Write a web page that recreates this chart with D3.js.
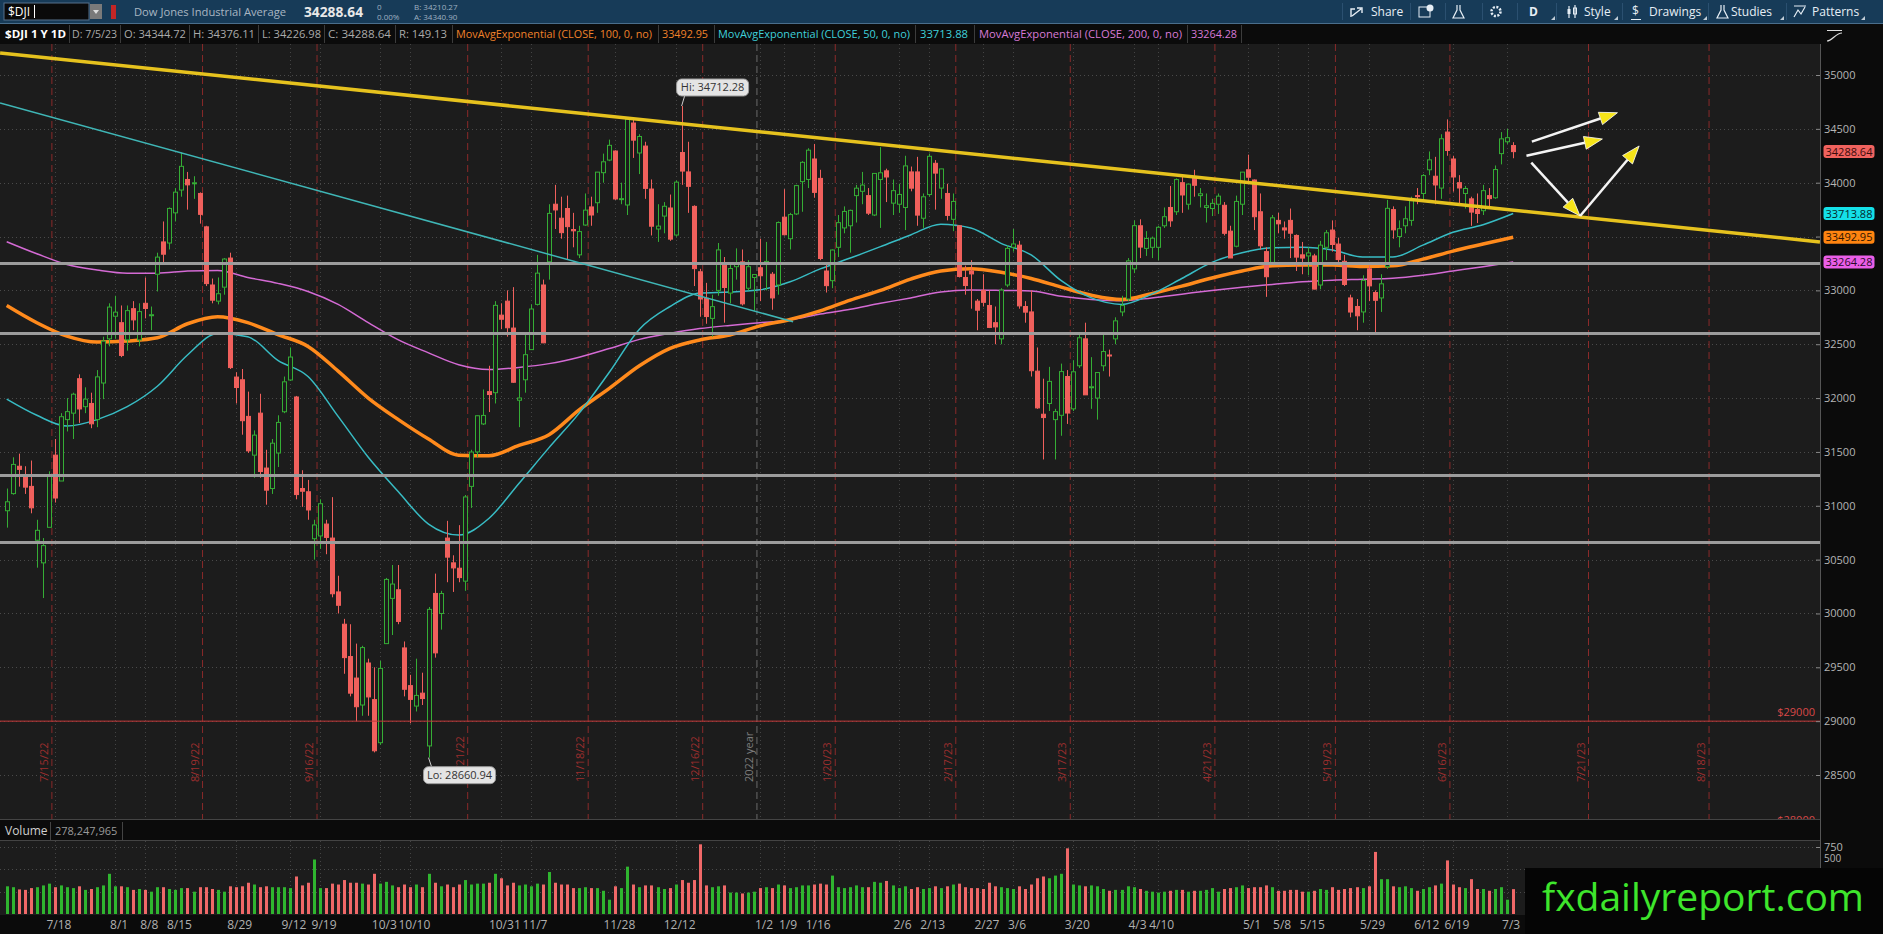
<!DOCTYPE html>
<head>
  <meta charset="utf-8">
  <title>$DJI 1 Y 1D</title>
  <script src="https://d3js.org/d3.v7.min.js"></script>
  <style>
    body { margin:0; background:#0b0b0b; overflow:hidden; }
    svg { display:block; }
    text { font-family: "Open Sans", "Noto Sans", sans-serif; }
  </style>
</head>

<body>
  <svg width="1883" height="934"></svg>
  <script>
    // ---------- daily bars, 7/6/22 .. 7/5/23 ----------
    var dates = [
      '7/6/22','7/7/22','7/8/22','7/11/22','7/12/22','7/13/22','7/14/22','7/15/22','7/18/22','7/19/22','7/20/22','7/21/22','7/22/22','7/25/22','7/26/22','7/27/22','7/28/22','7/29/22',
      '8/1/22','8/2/22','8/3/22','8/4/22','8/5/22','8/8/22','8/9/22','8/10/22','8/11/22','8/12/22','8/15/22','8/16/22','8/17/22','8/18/22','8/19/22','8/22/22','8/23/22','8/24/22','8/25/22','8/26/22','8/29/22','8/30/22','8/31/22',
      '9/1/22','9/2/22','9/6/22','9/7/22','9/8/22','9/9/22','9/12/22','9/13/22','9/14/22','9/15/22','9/16/22','9/19/22','9/20/22','9/21/22','9/22/22','9/23/22','9/26/22','9/27/22','9/28/22','9/29/22','9/30/22',
      '10/3/22','10/4/22','10/5/22','10/6/22','10/7/22','10/10/22','10/11/22','10/12/22','10/13/22','10/14/22','10/17/22','10/18/22','10/19/22','10/20/22','10/21/22','10/24/22','10/25/22','10/26/22','10/27/22','10/28/22','10/31/22',
      '11/1/22','11/2/22','11/3/22','11/4/22','11/7/22','11/8/22','11/9/22','11/10/22','11/11/22','11/14/22','11/15/22','11/16/22','11/17/22','11/18/22','11/21/22','11/22/22','11/23/22','11/25/22','11/28/22','11/29/22','11/30/22',
      '12/1/22','12/2/22','12/5/22','12/6/22','12/7/22','12/8/22','12/9/22','12/12/22','12/13/22','12/14/22','12/15/22','12/16/22','12/19/22','12/20/22','12/21/22','12/22/22','12/23/22','12/27/22','12/28/22','12/29/22','12/30/22',
      '1/3/23','1/4/23','1/5/23','1/6/23','1/9/23','1/10/23','1/11/23','1/12/23','1/13/23','1/17/23','1/18/23','1/19/23','1/20/23','1/23/23','1/24/23','1/25/23','1/26/23','1/27/23','1/30/23','1/31/23',
      '2/1/23','2/2/23','2/3/23','2/6/23','2/7/23','2/8/23','2/9/23','2/10/23','2/13/23','2/14/23','2/15/23','2/16/23','2/17/23','2/21/23','2/22/23','2/23/23','2/24/23','2/27/23','2/28/23',
      '3/1/23','3/2/23','3/3/23','3/6/23','3/7/23','3/8/23','3/9/23','3/10/23','3/13/23','3/14/23','3/15/23','3/16/23','3/17/23','3/20/23','3/21/23','3/22/23','3/23/23','3/24/23','3/27/23','3/28/23','3/29/23','3/30/23','3/31/23',
      '4/3/23','4/4/23','4/5/23','4/6/23','4/10/23','4/11/23','4/12/23','4/13/23','4/14/23','4/17/23','4/18/23','4/19/23','4/20/23','4/21/23','4/24/23','4/25/23','4/26/23','4/27/23','4/28/23',
      '5/1/23','5/2/23','5/3/23','5/4/23','5/5/23','5/8/23','5/9/23','5/10/23','5/11/23','5/12/23','5/15/23','5/16/23','5/17/23','5/18/23','5/19/23','5/22/23','5/23/23','5/24/23','5/25/23','5/26/23','5/30/23','5/31/23',
      '6/1/23','6/2/23','6/5/23','6/6/23','6/7/23','6/8/23','6/9/23','6/12/23','6/13/23','6/14/23','6/15/23','6/16/23','6/20/23','6/21/23','6/22/23','6/23/23','6/26/23','6/27/23','6/28/23','6/29/23','6/30/23',
      '7/3/23','7/5/23'
    ];
    var opens = [
      30954,31113,31367,31286,31180,30680,30470,30800,31470,31230,31800,31860,32180,31920,31950,31800,32140,32550,
      32760,32700,32540,32830,32540,32880,32770,33150,33450,33440,33720,33932,34030,33990,33900,33590,33050,32900,33030,33300,32195,32170,31830,
      31470,31860,31350,31160,31490,31873,32168,32010,31160,31130,30694,30720,30830,30700,30200,29900,29600,29400,29150,29540,29200,
      28800,29720,30140,30220,29680,29330,29140,29260,28770,30186,30000,30700,30470,30420,30300,31180,31500,31760,32060,32050,32770,
      32900,32650,31980,32170,32450,32870,33050,33266,33800,33670,33760,33565,33330,33607,33775,33814,34093,34210,34294,33850,33793,
      34554,34276,34340,33941,33570,33690,33765,33514,34280,34100,33780,33173,32926,32740,33000,33235,32975,33220,33265,33020,33120,
      33210,33250,33150,33050,33680,33480,33710,34010,34030,34220,34040,33180,33090,33400,33580,33600,33880,33920,33880,33700,
      34030,34110,33810,33800,33770,34100,34100,33670,33890,34180,33950,33900,33660,33600,33120,33180,32900,33000,32860,
      32700,32550,33050,33400,33420,32850,32800,32250,31850,31950,31800,31840,32200,31900,32300,32550,32100,32000,32300,32400,32550,32800,32920,
      33200,33600,33390,33400,33400,33600,33770,33730,34000,33800,34050,33880,33770,33760,33800,33790,33550,33410,33800,
      34120,34025,33730,33360,33260,33650,33580,33650,33510,33330,33320,33320,33050,33400,33560,33430,33270,32930,32850,32800,33200,32980,
      32930,33220,33750,33500,33600,33650,33880,33900,34120,34060,33950,34470,34220,34000,33900,33850,33750,33740,33880,33860,34270,
      34380,34344.72
    ];
    var highs = [
      31160,31450,31484,31367,31420,30870,30700,31320,31620,31860,32000,32050,32220,32100,32050,32260,32570,32880,
      32950,32860,32860,32900,32880,33120,32850,33350,33640,33770,33950,34281,34100,34060,33910,33600,33110,33120,33300,33350,32240,32270,32060,
      31700,32040,31520,31620,31840,32200,32470,32020,31330,31240,30870,31060,30870,31080,30350,29950,29900,29720,29700,29580,29500,
      29560,30330,30450,30450,29740,29430,29580,29450,30060,30370,30210,30860,30540,30820,31100,31520,31840,32080,32300,32900,32880,
      33000,33030,32270,32600,32870,33330,33100,33800,33980,33870,33880,33720,33600,33900,33870,34100,34270,34400,34300,34000,34600,
      34600,34450,34380,34030,33800,33820,33890,34020,34712.28,34380,33790,33200,33070,32960,33440,33310,33240,33390,33380,33280,33150,
      33480,33450,33170,33640,33940,33720,33980,34200,34320,34360,34120,33250,33380,33700,33780,33750,33980,34100,33950,34090,
      34330,34130,34030,33990,34250,34150,34240,33900,34270,34210,34130,33990,33900,33600,33230,33280,32920,33150,33000,
      32850,33020,33420,33570,33460,32900,33000,32470,32180,32290,31900,32320,32260,32350,32600,32700,32380,32240,32600,32450,32750,32950,33300,
      33650,33660,33550,33500,33600,33770,33970,34040,34080,33990,34120,33950,33900,33850,33900,33820,33600,33880,34100,
      34260,34030,33900,33400,33700,33720,33640,33760,33520,33450,33400,33340,33460,33560,33650,33490,33330,32960,32920,33140,33230,33000,
      33150,33840,33780,33650,33780,33870,33950,34080,34290,34240,34450,34588,34250,34070,33970,33870,33900,33980,33950,34160,34470,
      34500,34376.11
    ];
    var lows = [
      30797,31103,31178,31110,30930,30425,30143,30800,31030,31230,31690,31620,31770,31860,31720,31730,31990,32480,
      32550,32380,32440,32630,32480,32740,32630,32990,33240,33380,33640,33870,33750,33850,33620,33040,32880,32870,32960,32270,31950,31660,31490,
      31260,31260,31010,31110,31360,31860,32160,31060,30990,30870,30500,30600,30550,30150,30000,29440,29230,29000,29050,29050,28710,
      28780,29720,29800,29900,29230,28980,29090,29150,28660.94,29590,29850,30290,30200,30290,30210,30980,31450,31750,31870,31950,32640,
      32570,32140,31730,32050,32450,32860,32510,33100,33570,33480,33290,33400,33300,33600,33600,33720,34000,34200,33840,33800,33700,
      34230,34080,33850,33510,33450,33530,33460,33500,33980,33720,33040,32755,32690,32570,32950,32700,32880,33100,32860,33000,32810,
      32900,33000,32820,32960,33510,33380,33700,33730,33950,33860,33280,32980,33020,33310,33530,33350,33630,33800,33700,33690,
      33580,33820,33700,33720,33560,33920,33600,33580,33870,33750,33850,33650,33550,33120,32960,32830,32630,32850,32650,
      32500,32500,33030,33360,32830,32700,32200,31900,31430,31880,31430,31650,31760,31880,32280,32030,31900,31800,32250,32200,32500,32760,32900,
      33160,33300,33320,33300,33280,33580,33590,33700,33720,33750,33870,33770,33630,33690,33710,33510,33300,33400,33700,
      34000,33560,33380,32940,33250,33530,33480,33300,33180,33150,33140,33010,33010,33280,33360,33230,33040,32750,32630,32700,32900,32590,
      32800,33200,33480,33400,33530,33600,33800,33830,34070,33800,33850,34250,33917,33800,33760,33600,33625,33700,33770,33850,34170,
      34360,34226.98
    ];
    var closes = [
      31037,31384,31338,31173,30981,30772,30630,31288,31072,31827,31874,32036,31899,31990,31761,32197,32529,32845,
      32798,32396,32812,32726,32803,32832,32774,33309,33336,33761,33912,34152,33980,33999,33706,33063,32909,32969,33291,32283,32098,31790,31510,
      31656,31318,31145,31581,31774,32151,32381,31104,31135,30961,30822,31019,30706,30183,30076,29590,29260,29134,29683,29225,28725,
      29490,30316,30273,29926,29296,29202,29239,29210,30038,29634,30185,30523,30423,30333,31082,31499,31836,31839,32033,32861,32732,
      32653,32147,32001,32403,32827,33160,32513,33715,33747,33536,33592,33553,33546,33745,33700,34098,34194,34347,33849,33852,34589,
      34395,34429,33947,33596,33597,33781,33476,34005,34108,33966,33202,32920,32757,32849,33376,33027,33203,33241,32875,33220,33147,
      33136,33269,32930,33630,33517,33704,33973,34189,34302,33910,33296,33044,33375,33629,33733,33743,33949,33978,33717,34086,
      34092,34053,33926,33891,34156,33949,33699,33869,34245,34089,34128,33696,33826,33129,33045,33153,32816,32889,32656,
      32661,33003,33390,33431,32856,32798,32254,31909,31819,32155,31874,32246,31861,32244,32560,32030,32105,32237,32432,32394,32717,32859,33274,
      33601,33402,33482,33485,33586,33684,33646,34029,33886,33987,33976,33897,33786,33808,33875,33530,33301,33826,34098,
      34051,33684,33414,33127,33674,33618,33561,33531,33309,33300,33348,33012,33420,33535,33426,33286,33055,32799,32764,33093,33042,32908,
      33061,33762,33562,33573,33665,33833,33876,34066,34212,33979,34408,34299,34053,33951,33946,33727,33714,33926,33852,34122,34407,
      34418,34288.64
    ];
    // volume, millions of shares
    var volumes = [
      310,300,275,270,290,300,320,340,300,320,300,290,310,270,280,300,320,450,
      310,310,300,270,280,270,250,300,300,280,270,290,290,250,300,300,280,270,250,310,300,310,350,
      330,300,310,300,300,300,290,420,320,350,610,290,290,340,330,380,350,350,340,330,450,
      340,360,320,300,330,300,330,300,450,350,310,330,300,330,380,330,340,340,350,450,400,
      320,350,320,330,310,340,330,470,350,330,330,290,290,300,290,290,260,160,310,290,530,
      330,300,320,320,300,280,290,330,380,350,380,780,320,300,310,320,240,240,230,240,250,
      290,300,290,330,320,290,300,320,320,330,340,330,430,300,290,300,320,300,300,360,
      350,370,320,290,310,280,300,280,290,310,290,310,330,340,300,290,290,280,350,
      310,300,290,280,310,280,330,400,420,400,430,450,735,330,320,310,320,310,280,260,270,270,310,
      300,280,260,250,240,250,260,270,270,250,260,260,270,290,250,280,290,300,320,
      290,300,300,320,300,260,260,270,270,250,250,260,280,270,300,270,280,290,300,290,310,695,
      390,390,310,300,310,290,260,280,300,320,340,600,330,300,290,390,280,280,260,280,300,
      160,278.25
    ];
    var lastVolume = 278247965;

    // ---------- exponential moving averages, read every 5th session ----------
    var emaStep = 5;
    var ema50 = [31990,31840,31740,31800,31920,32110,32400,32600,32570,32350,
                 32200,31830,31450,31130,30830,30728,30882,31207,31540,31860,
                 32240,32640,32848,32975,32985,33005,33080,33200,33300,33406,
                 33515,33615,33580,33437,33330,33090,32930,32870,32965,33110,
                 33260,33350,33395,33400,33375,33310,33310,33420,33540,33610,33714];
    var ema100 = [32860,32700,32575,32520,32530,32560,32690,32755,32700,32590,
                  32480,32250,32000,31800,31620,31470,31465,31560,31660,31890,
                  32090,32300,32460,32540,32585,32670,32730,32810,32910,33000,
                  33105,33180,33200,33168,33110,33030,32955,32915,32970,33040,
                  33115,33180,33228,33235,33235,33222,33228,33290,33365,33430,33493];
    var ema200 = [33452,33340,33240,33190,33160,33160,33180,33185,33120,33065,
                  32990,32870,32700,32540,32420,32310,32266,32285,32320,32380,
                  32460,32545,32600,32645,32675,32700,32725,32780,32825,32880,
                  32930,32985,33003,33000,32995,32945,32915,32904,32930,32965,
                  33000,33030,33055,33080,33095,33103,33112,33140,33180,33220,33264];
    var lastEma = { ema50: 33713.88, ema100: 33492.95, ema200: 33264.28 };

    // ---------- axes, markers, drawings ----------
    var priceTicks = [28500,29000,29500,30000,30500,31000,31500,32000,32500,33000,33500,34000,34500,35000];
    var volumeTicks = [250, 500, 750];
    var dateTicks = [
      ['7/18/22','7/18'],['8/1/22','8/1'],['8/8/22','8/8'],['8/15/22','8/15'],['8/29/22','8/29'],['9/12/22','9/12'],
      ['9/19/22','9/19'],['10/3/22','10/3'],['10/10/22','10/10'],['10/31/22','10/31'],['11/7/22','11/7'],['11/28/22','11/28'],
      ['12/12/22','12/12'],['1/3/23','1/2'],['1/9/23','1/9'],['1/17/23','1/16'],['2/6/23','2/6'],['2/13/23','2/13'],
      ['2/27/23','2/27'],['3/6/23','3/6'],['3/20/23','3/20'],['4/3/23','4/3'],['4/10/23','4/10'],['5/1/23','5/1'],
      ['5/8/23','5/8'],['5/15/23','5/15'],['5/30/23','5/29'],['6/12/23','6/12'],['6/20/23','6/19'],['7/3/23','7/3']
    ];
    var expiries = ['7/15/22','8/19/22','9/16/22','10/21/22','11/18/22','12/16/22','1/20/23','2/17/23','3/17/23','4/21/23','5/19/23','6/16/23'];
    var futureExpiries = [['7/21/23', 12], ['8/18/23', 32]]; // sessions after the last bar
    var levelLines = [33250, 32600, 31280, 30660];
    var alertLevels = [29000, 28000];
    // trend lines as [session, price] anchors
    var yellowTrend = [[-1.1, 35205], [300.9, 33450]];
    var tealTrend = [[-1.1, 34740], [130.5, 32709]];
    var arrows = [
      [[253.1, 34381], [267.3, 34650]],
      [[252.2, 34251], [264.8, 34406]],
      [[253.0, 34186], [261.1, 33691]],
      [[261.1, 33691], [270.9, 34341]]
    ];
    var hiBar = '12/13/22', loBar = '10/13/22';

    // ---------- layout ----------
    var W = 1883, H = 934;
    var plot = { left: 0, right: 1820, top: 44, bottom: 819 };
    var volTop = 841, volBottom = 915;
    var bg = '#1c1c1c', upColor = '#35ad35', downColor = '#f0605c';

    var svg = d3.select('svg');
    var last = dates.length - 1;
    var x = d3.scaleLinear().domain([0, last]).range([6.7, 6.7 + last * 6.026]);
    var y = d3.scaleLinear().domain([28500, 35000]).range([775, 75]);
    var yVol = d3.scaleLinear().domain([0, 750]).range([914, 847]);
    var pos = function(d) { return dates.indexOf(d); };

    svg.append('rect').attr('width', W).attr('height', H).attr('fill', '#0b0b0b');
    svg.append('rect').attr('width', W).attr('height', 23).attr('fill', '#173b58');
    svg.append('rect').attr('x', plot.left).attr('y', plot.top)
      .attr('width', plot.right - plot.left).attr('height', plot.bottom - plot.top).attr('fill', bg);
    svg.append('rect').attr('x', plot.left).attr('y', volTop)
      .attr('width', plot.right - plot.left).attr('height', volBottom - volTop).attr('fill', bg);

    var defs = svg.append('defs');
    defs.append('clipPath').attr('id', 'clipPlot').append('rect')
      .attr('x', plot.left).attr('y', plot.top).attr('width', plot.right - plot.left).attr('height', plot.bottom - plot.top);
    defs.append('clipPath').attr('id', 'clipVol').append('rect')
      .attr('x', plot.left).attr('y', volTop).attr('width', plot.right - plot.left).attr('height', volBottom - volTop);

    var gPlot = svg.append('g').attr('clip-path', 'url(#clipPlot)');
    var gVol = svg.append('g').attr('clip-path', 'url(#clipVol)');

    // grid
    gPlot.selectAll('.hgrid').data(priceTicks).enter().append('line')
      .attr('x1', plot.left).attr('x2', plot.right)
      .attr('y1', d => Math.round(y(d)) + 0.5).attr('y2', d => Math.round(y(d)) + 0.5)
      .attr('stroke', '#4a4a4a').attr('stroke-dasharray', '1,3');
    [gPlot, gVol].forEach(function(g, k) {
      g.selectAll('.vgrid').data(dateTicks).enter().append('line')
        .attr('x1', d => Math.round(x(pos(d[0]))) + 0.5).attr('x2', d => Math.round(x(pos(d[0]))) + 0.5)
        .attr('y1', k ? volTop : plot.top).attr('y2', k ? volBottom : plot.bottom)
        .attr('stroke', '#444').attr('stroke-dasharray', '1,3');
    });
    gVol.selectAll('.vhgrid').data(volumeTicks).enter().append('line')
      .attr('x1', plot.left).attr('x2', plot.right)
      .attr('y1', d => Math.round(yVol(d)) + 0.5).attr('y2', d => Math.round(yVol(d)) + 0.5)
      .attr('stroke', '#4a4a4a').attr('stroke-dasharray', '1,3');

    // expiration markers
    var expiryMarks = expiries.map(d => ({ label: d, xs: x(pos(d)) + 3 }))
      .concat(futureExpiries.map(d => ({ label: d[0], xs: x(last + d[1]) + 3 })));
    gPlot.selectAll('.exp').data(expiryMarks).enter().append('line')
      .attr('x1', d => d.xs).attr('x2', d => d.xs).attr('y1', plot.top).attr('y2', plot.bottom)
      .attr('stroke', '#8a2a2a').attr('stroke-dasharray', '7,4');
    gPlot.selectAll('.expLabel').data(expiryMarks).enter().append('text')
      .attr('transform', d => 'translate(' + (d.xs - 4) + ',782) rotate(-90)')
      .attr('font-size', 11).attr('fill', '#9c2e2e').text(d => d.label);
    var yearX = (x(pos('12/30/22')) + x(pos('1/3/23'))) / 2;
    gPlot.append('line').attr('x1', yearX).attr('x2', yearX).attr('y1', plot.top).attr('y2', plot.bottom)
      .attr('stroke', '#6a6a6a').attr('stroke-dasharray', '7,4');
    gPlot.append('text').attr('transform', 'translate(' + (yearX - 4) + ',782) rotate(-90)')
      .attr('font-size', 11).attr('fill', '#7c7c7c').text('2022 year');

    // moving averages
    var emaLine = d3.line().x((d, k) => x(k * emaStep)).y(d => y(d)).curve(d3.curveMonotoneX);
    [[ema200, '#d46ad4', 1.5], [ema100, '#ff8a1c', 3.5], [ema50, '#38bcc4', 1.5]].forEach(function(s) {
      gPlot.append('path').datum(s[0]).attr('d', emaLine)
        .attr('fill', 'none').attr('stroke', s[1]).attr('stroke-width', s[2]);
    });

    // candles
    var bars = dates.map(function(d, i) {
      return { i: i, o: opens[i], h: highs[i], l: lows[i], c: closes[i], v: volumes[i], up: closes[i] >= opens[i] };
    });
    var candle = gPlot.selectAll('.candle').data(bars).enter().append('g');
    candle.append('line')
      .attr('x1', d => Math.round(x(d.i)) + 0.5).attr('x2', d => Math.round(x(d.i)) + 0.5)
      .attr('y1', d => y(d.h)).attr('y2', d => y(Math.max(d.o, d.c)))
      .attr('stroke', d => d.up ? upColor : downColor);
    candle.append('line')
      .attr('x1', d => Math.round(x(d.i)) + 0.5).attr('x2', d => Math.round(x(d.i)) + 0.5)
      .attr('y1', d => y(Math.min(d.o, d.c))).attr('y2', d => y(d.l))
      .attr('stroke', d => d.up ? upColor : downColor);
    candle.append('rect')
      .attr('x', d => Math.round(x(d.i)) - 1.5).attr('width', 4)
      .attr('y', d => y(Math.max(d.o, d.c)))
      .attr('height', d => Math.max(1, y(Math.min(d.o, d.c)) - y(Math.max(d.o, d.c))))
      .attr('fill', d => d.up ? bg : downColor)
      .attr('stroke', d => d.up ? upColor : downColor).attr('stroke-width', 1);

    // price level drawings
    gPlot.selectAll('.level').data(levelLines).enter().append('line')
      .attr('x1', plot.left).attr('x2', plot.right).attr('y1', d => y(d)).attr('y2', d => y(d))
      .attr('stroke', '#9c9c9c').attr('stroke-width', 3);
    gPlot.selectAll('.alert').data(alertLevels).enter().append('line')
      .attr('x1', plot.left).attr('x2', plot.right).attr('y1', d => y(d)).attr('y2', d => y(d))
      .attr('stroke', '#c43838').attr('stroke-width', 1);
    gPlot.selectAll('.alertLabel').data(alertLevels).enter().append('text')
      .attr('x', 1815).attr('y', d => y(d) - 5).attr('text-anchor', 'end')
      .attr('font-size', 11).attr('fill', '#d84848').text(d => '$' + d);

    var trendLine = d3.line().x(d => x(d[0])).y(d => y(d[1]));
    gPlot.append('path').datum(tealTrend).attr('d', trendLine)
      .attr('stroke', '#3fb6b6').attr('stroke-width', 1.5).attr('fill', 'none');
    gPlot.append('path').datum(yellowTrend).attr('d', trendLine)
      .attr('stroke', '#e6c21e').attr('stroke-width', 3.5).attr('fill', 'none');

    // arrows: white shaft, yellow head
    arrows.forEach(function(a) {
      var x0 = x(a[0][0]), y0 = y(a[0][1]), x1 = x(a[1][0]), y1 = y(a[1][1]);
      var ang = Math.atan2(y1 - y0, x1 - x0), len = 18, half = 6.5;
      var bx = x1 - len * Math.cos(ang), by = y1 - len * Math.sin(ang);
      gPlot.append('line').attr('x1', x0).attr('y1', y0).attr('x2', bx).attr('y2', by)
        .attr('stroke', '#f4f4f4').attr('stroke-width', 2.5);
      var pts = [[x1, y1],
        [bx + half * Math.sin(ang), by - half * Math.cos(ang)],
        [bx - half * Math.sin(ang), by + half * Math.cos(ang)]];
      gPlot.append('polygon').attr('points', pts.map(p => p.join(',')).join(' '))
        .attr('fill', '#f6e418').attr('stroke', '#ffffff').attr('stroke-width', 0.8);
    });

    // high / low bubbles
    function bubble(i, price, label, above) {
      var ax = x(i), ay = y(price);
      var bx = ax - 5, by = above ? ay - 27 : ay + 9, bw = 72, bh = 17;
      gPlot.append('line').attr('x1', ax).attr('y1', ay)
        .attr('x2', ax + 3).attr('y2', above ? by + bh : by).attr('stroke', '#cfcfcf');
      gPlot.append('rect').attr('x', bx).attr('y', by).attr('width', bw).attr('height', bh).attr('rx', 5)
        .attr('fill', '#e4e4e4').attr('stroke', '#9a9a9a');
      gPlot.append('text').attr('x', bx + bw / 2).attr('y', by + 12.5).attr('text-anchor', 'middle')
        .attr('font-size', 11).attr('fill', '#333').text(label);
    }
    bubble(pos(hiBar), highs[pos(hiBar)], 'Hi: ' + d3.format('.2f')(highs[pos(hiBar)]), true);
    bubble(pos(loBar), lows[pos(loBar)], 'Lo: ' + d3.format('.2f')(lows[pos(loBar)]), false);

    // volume bars
    gVol.selectAll('.vol').data(bars).enter().append('rect')
      .attr('x', d => Math.round(x(d.i)) - 1).attr('width', 3)
      .attr('y', d => yVol(d.v)).attr('height', d => yVol(0) - yVol(d.v))
      .attr('fill', d => d.up ? '#2fb52f' : '#f06868');

    // frames
    svg.append('line').attr('x1', 0).attr('x2', plot.right).attr('y1', plot.bottom + 0.5).attr('y2', plot.bottom + 0.5).attr('stroke', '#444');
    svg.append('line').attr('x1', 0).attr('x2', plot.right).attr('y1', volTop - 0.5).attr('y2', volTop - 0.5).attr('stroke', '#444');
    svg.append('line').attr('x1', plot.right + 0.5).attr('x2', plot.right + 0.5).attr('y1', plot.top).attr('y2', volBottom).attr('stroke', '#555');

    // price axis; labels under the value tags are hidden as on the platform
    var valueTags = [
      [closes[last], '#f0625e', '#3a0b0b'], [lastEma.ema50, '#14e0e8', '#06282a'],
      [lastEma.ema100, '#ff8410', '#2e1500'], [lastEma.ema200, '#ea5ee8', '#2a0a2a']
    ];
    var yAxis = svg.append('g').attr('transform', 'translate(' + plot.right + ',0)')
      .call(d3.axisRight(y).tickValues(priceTicks).tickSize(-4).tickPadding(4).tickFormat(d3.format('d')));
    yAxis.select('.domain').remove();
    yAxis.selectAll('line').attr('stroke', '#888');
    yAxis.selectAll('text').attr('font-size', 11).attr('fill', '#b4b4b4')
      .style('display', d => valueTags.some(t => Math.abs(y(t[0]) - y(d)) < 11) ? 'none' : null);

    valueTags.forEach(function(t) {
      svg.append('rect').attr('x', 1823.5).attr('y', y(t[0]) - 6.5).attr('width', 51).attr('height', 13).attr('rx', 3)
        .attr('fill', t[1]);
      svg.append('text').attr('x', 1849).attr('y', y(t[0]) + 4).attr('text-anchor', 'middle')
        .attr('font-size', 11).attr('fill', t[2]).text(d3.format('.2f')(t[0]));
    });
    // style icon at the top of the price axis
    svg.append('path').attr('d', 'M1827,30.5 h15 M1827,41 C1832,41 1836,33 1842,33')
      .attr('stroke', '#ddd').attr('fill', 'none').attr('stroke-width', 1.2);

    // volume axis
    var vAxis = svg.append('g').attr('transform', 'translate(' + plot.right + ',0)')
      .call(d3.axisRight(yVol).tickValues([750]).tickSize(-4).tickPadding(4));
    vAxis.select('.domain').remove();
    vAxis.selectAll('line').attr('stroke', '#888');
    vAxis.selectAll('text').attr('font-size', 11).attr('fill', '#b4b4b4');
    // the 500 label peeks out just above the watermark
    svg.append('text').attr('x', 1824).attr('y', 862).attr('font-size', 10).attr('fill', '#b4b4b4').text('500');

    // date axis
    svg.selectAll('.dateLabel').data(dateTicks).enter().append('text')
      .attr('x', d => x(pos(d[0])) + 4).attr('y', 929).attr('text-anchor', 'middle')
      .attr('font-size', 12).attr('fill', '#b0b0b0').text(d => d[1]);

    // volume header
    svg.append('text').attr('x', 5).attr('y', 835).attr('font-size', 12).attr('fill', '#d0d0d0').text('Volume');
    svg.append('line').attr('x1', 50.5).attr('x2', 50.5).attr('y1', 822).attr('y2', 840).attr('stroke', '#444');
    svg.append('text').attr('x', 55).attr('y', 835).attr('font-size', 11).attr('fill', '#9a9a9a')
      .text(d3.format(',')(lastVolume));
    svg.append('line').attr('x1', 122.5).attr('x2', 122.5).attr('y1', 822).attr('y2', 840).attr('stroke', '#444');

    // info row
    var o = opens[last], h = highs[last], l = lows[last], c = closes[last];
    var info = [
      ['$DJI 1 Y 1D', 5, 61, '#ffffff', 11, 'bold'],
      ['D: ' + dates[last], 72, 45, '#aaaaaa', 11],
      ['O: ' + o.toFixed(2), 124, 62, '#aaaaaa', 11],
      ['H: ' + h.toFixed(2), 193, 62, '#aaaaaa', 11],
      ['L: ' + l.toFixed(2), 262, 59, '#aaaaaa', 11],
      ['C: ' + c.toFixed(2), 328, 63, '#aaaaaa', 11],
      ['R: ' + (h - l).toFixed(2), 399, 48, '#aaaaaa', 11],
      ['MovAvgExponential (CLOSE, 100, 0, no)', 456, 196, '#f0822a', 10.5],
      [lastEma.ema100.toFixed(2), 662, 46, '#f0822a', 11],
      ['MovAvgExponential (CLOSE, 50, 0, no)', 718, 192, '#3fd0da', 10.5],
      [lastEma.ema50.toFixed(2), 920, 48, '#3fd0da', 11],
      ['MovAvgExponential (CLOSE, 200, 0, no)', 979, 203, '#d77ad6', 10.5],
      [lastEma.ema200.toFixed(2), 1191, 46, '#d77ad6', 11]
    ];
    info.forEach(function(t) {
      svg.append('text').attr('x', t[1]).attr('y', 38).attr('font-size', t[4])
        .attr('font-weight', t[5] || 'normal').attr('fill', t[3])
        .attr('textLength', t[2]).attr('lengthAdjust', 'spacingAndGlyphs').text(t[0]);
    });
    [69, 120, 189, 258, 324, 395, 452, 658, 714, 915, 974, 1187, 1241].forEach(function(sx) {
      svg.append('line').attr('x1', sx + 0.5).attr('x2', sx + 0.5).attr('y1', 25).attr('y2', 43).attr('stroke', '#3c3c3c');
    });
    svg.append('line').attr('x1', 0).attr('x2', W).attr('y1', 23.5).attr('y2', 23.5).attr('stroke', '#4a6e8c');

    // top toolbar
    svg.append('rect').attr('x', 4).attr('y', 3).attr('width', 85).attr('height', 17).attr('fill', '#0a0a0a').attr('stroke', '#56718a');
    svg.append('text').attr('x', 8).attr('y', 16).attr('font-size', 12).attr('fill', '#fff').text('$DJI');
    svg.append('line').attr('x1', 34.5).attr('x2', 34.5).attr('y1', 5).attr('y2', 18).attr('stroke', '#fff');
    svg.append('rect').attr('x', 90).attr('y', 4).attr('width', 12).attr('height', 15).attr('fill', '#7a7a7a');
    svg.append('path').attr('d', 'M93,10 h6 l-3,4 z').attr('fill', '#ddd');
    svg.append('rect').attr('x', 111).attr('y', 5).attr('width', 5).attr('height', 14).attr('fill', '#c22626');
    svg.append('text').attr('x', 134).attr('y', 16).attr('font-size', 11).attr('fill', '#a9b6c2')
      .attr('textLength', 152).attr('lengthAdjust', 'spacingAndGlyphs').text('Dow Jones Industrial Average');
    svg.append('text').attr('x', 304).attr('y', 17).attr('font-size', 14).attr('font-weight', 'bold').attr('fill', '#e8e8e8')
      .attr('textLength', 59).attr('lengthAdjust', 'spacingAndGlyphs').text(c.toFixed(2));
    svg.append('text').attr('x', 377).attr('y', 10).attr('font-size', 8).attr('fill', '#9fb0c0').text('0');
    svg.append('text').attr('x', 377).attr('y', 20).attr('font-size', 8).attr('fill', '#9fb0c0').text('0.00%');
    svg.append('text').attr('x', 414).attr('y', 10).attr('font-size', 8).attr('fill', '#9fb0c0').text('B: 34210.27');
    svg.append('text').attr('x', 414).attr('y', 20).attr('font-size', 8).attr('fill', '#9fb0c0').text('A: 34340.90');

    var tools = [['Share', 1371], ['Style', 1584], ['Drawings', 1649], ['Studies', 1731], ['Patterns', 1812]];
    tools.forEach(function(t) {
      svg.append('text').attr('x', t[1]).attr('y', 16).attr('font-size', 12).attr('fill', '#e6eef5').text(t[0]);
    });
    svg.append('text').attr('x', 1529).attr('y', 16).attr('font-size', 12).attr('font-weight', 'bold').attr('fill', '#e6eef5').text('D');
    svg.append('path').attr('d', 'M1351,17 v-8 h4 M1352,16 l9,-7 M1357,8 h5 v5').attr('stroke', '#e6eef5').attr('fill', 'none').attr('stroke-width', 1.4);
    svg.append('rect').attr('x', 1419).attr('y', 7).attr('width', 11).attr('height', 10).attr('fill', 'none').attr('stroke', '#e6eef5');
    svg.append('circle').attr('cx', 1430).attr('cy', 8).attr('r', 3.5).attr('fill', '#e6eef5');
    [1455, 1719].forEach(function(fx) {
      svg.append('path').attr('d', 'M' + (fx + 2) + ',5 v5 l-4,8 h11 l-4,-8 v-5').attr('stroke', '#e6eef5').attr('fill', 'none').attr('stroke-width', 1.2);
    });
    svg.append('circle').attr('cx', 1496).attr('cy', 11.5).attr('r', 4.5).attr('fill', 'none').attr('stroke', '#e6eef5').attr('stroke-width', 2.5).attr('stroke-dasharray', '2,1.5');
    svg.append('path').attr('d', 'M1569,6 v12 M1575,5 v13').attr('stroke', '#e6eef5').attr('stroke-width', 1.2);
    svg.append('rect').attr('x', 1567.5).attr('y', 9).attr('width', 3).attr('height', 5).attr('fill', '#e6eef5');
    svg.append('rect').attr('x', 1573.5).attr('y', 8).attr('width', 3).attr('height', 6).attr('fill', 'none').attr('stroke', '#e6eef5');
    svg.append('text').attr('x', 1632).attr('y', 15).attr('font-size', 12).attr('fill', '#e6eef5').text('$');
    svg.append('line').attr('x1', 1631).attr('x2', 1641).attr('y1', 19.5).attr('y2', 19.5).attr('stroke', '#e6eef5');
    svg.append('path').attr('d', 'M1794,6 h12 M1794,17 l4,-7 l3,4 l4,-7').attr('stroke', '#e6eef5').attr('fill', 'none').attr('stroke-width', 1.2);
    [1342, 1410, 1445, 1482, 1517, 1556, 1622, 1708, 1786].forEach(function(sx) {
      svg.append('line').attr('x1', sx + 0.5).attr('x2', sx + 0.5).attr('y1', 3).attr('y2', 20).attr('stroke', '#2b5070');
    });
    [1551, 1614, 1703, 1780, 1861].forEach(function(cx) {
      svg.append('path').attr('d', 'M' + cx + ',20 h4 v-4 z').attr('fill', '#c0ccd6');
    });

    // watermark
    svg.append('rect').attr('x', 1525).attr('y', 868).attr('width', W - 1525).attr('height', H - 868).attr('fill', '#050505');
    svg.append('text').attr('x', 1703).attr('y', 911).attr('font-size', 38).attr('text-anchor', 'middle')
      .attr('font-family', '"Liberation Sans Narrow", "Liberation Sans", sans-serif')
      .attr('fill', '#3ee62c').attr('textLength', 322).attr('lengthAdjust', 'spacingAndGlyphs')
      .text('fxdailyreport.com');
  </script>
</body>
